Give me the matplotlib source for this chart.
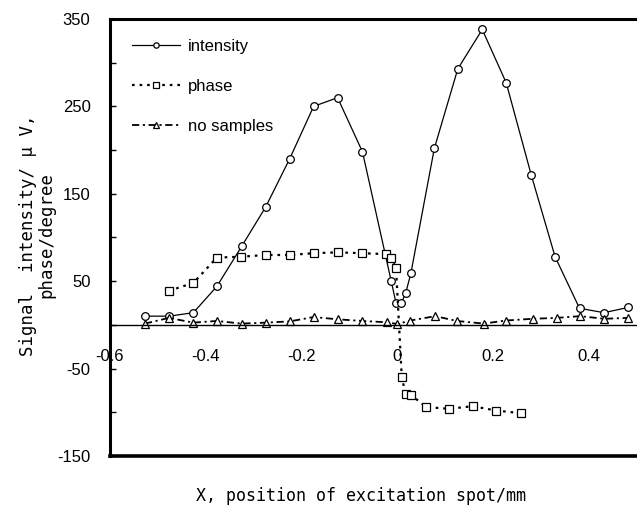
import matplotlib
matplotlib.use("Agg")
import matplotlib.pyplot as plt

# ---- data ----
int_x = [-0.527, -0.476, -0.426, -0.377, -0.325, -0.275, -0.225, -0.175, -0.125, -0.073,
         -0.013, -0.003, 0.008, 0.017, 0.028, 0.077, 0.126, 0.177, 0.227, 0.279,
         0.329, 0.380, 0.431, 0.482]
int_y = [10, 10, 14, 44, 90, 135, 190, 250, 260, 198,
         50, 25, 25, 36, 59, 202, 293, 338, 277, 172,
         78, 19, 14, 20]

phase_x = [-0.477, -0.426, -0.377, -0.326, -0.275, -0.225, -0.175, -0.124, -0.073, -0.024,
           -0.013, -0.003, 0.009, 0.017, 0.028, 0.060, 0.108, 0.157, 0.206, 0.257]
phase_y = [39, 48, 77, 78, 80, 80, 82, 83, 82, 81,
           76, 65, -60, -79, -80, -94, -96, -93, -98, -101]

nos_x = [-0.527, -0.477, -0.426, -0.377, -0.325, -0.275, -0.225, -0.175, -0.125, -0.073,
         -0.022, 0.0, 0.027, 0.079, 0.124, 0.180, 0.226, 0.282, 0.332, 0.381, 0.432, 0.481]
nos_y = [1.5, 8, 2.6, 4.5, 1.5, 2.6, 4, 9, 6.4, 4.5,
         3, 1, 5, 10, 4.5, 1.5, 5, 7, 8, 10, 7, 8]

series_labels = ["intensity", "phase", "no samples"]
x_ticks = [-0.6, -0.4, -0.2, 0, 0.2, 0.4]
x_ticklabels = ["-0.6", "-0.4", "-0.2", "0", "0.2", "0.4"]
y_ticks = [-150, -100, -50, 0, 50, 100, 150, 200, 250, 300, 350]
y_ticklabels = ["-150", "", "-50", "", "50", "", "150", "", "250", "", "350"]
x_label = "X, position of excitation spot/mm"
y_label = "Signal  intensity/ \u03bc V,\nphase/degree"

# ---- figure ----
fig = plt.figure(figsize=(6.37, 5.11), dpi=100)
W, H = 637, 511
ax = fig.add_axes([110 / W, (H - 456) / H, (637 - 110) / W, (456 - 19) / H])

ax.plot(int_x, int_y, color="black", lw=0.9, marker="o", ms=5.5,
        mfc="white", mec="black", mew=0.9, label=series_labels[0])
ax.plot(phase_x, phase_y, color="black", lw=1.6, ls=(0, (1.2, 2.2)), marker="s", ms=5.5,
        mfc="white", mec="black", mew=0.9, label=series_labels[1])
ax.plot(nos_x, nos_y, color="black", lw=1.3, ls=(0, (4, 2, 1.2, 2)), marker="^", ms=5.5,
        mfc="white", mec="black", mew=0.9, label=series_labels[2])

ax.set_xlim(-0.6, 0.5)
ax.set_ylim(-150, 350)

# frame
for s in ["left", "top"]:
    ax.spines[s].set_linewidth(2.2)
ax.spines["right"].set_visible(False)
ax.spines["bottom"].set_position(("data", 0))
ax.spines["bottom"].set_linewidth(1.0)
ax.axhline(-150, color="black", lw=2.6, clip_on=False)

tick_font = dict(family="Liberation Sans", size=12)
ax.set_xticks(x_ticks)
ax.set_xticklabels(x_ticklabels, **tick_font)
ax.tick_params(axis="x", length=0, pad=17)
ax.set_yticks(y_ticks)
ax.set_yticklabels(y_ticklabels, **tick_font)
ax.tick_params(axis="y", direction="in", length=4, width=1, pad=14)

mono = "DejaVu Sans Mono"
fig.text(361 / W, 1 - 496 / H, x_label, ha="center", va="center",
         family=mono, size=12)
fig.text(37 / W, 1 - 235 / H, y_label, ha="center", va="center", rotation=90,
         family=mono, size=12.5, linespacing=1.0)

leg = ax.legend(loc="upper left", bbox_to_anchor=(22 / 527, 1 - 20 / 437),
                frameon=False, borderpad=0, borderaxespad=0,
                handlelength=2.9, handletextpad=0.45, labelspacing=1.5,
                prop=dict(family="Liberation Sans", size=12), markerscale=0.7)

fig.savefig("out.png", dpi=100)
